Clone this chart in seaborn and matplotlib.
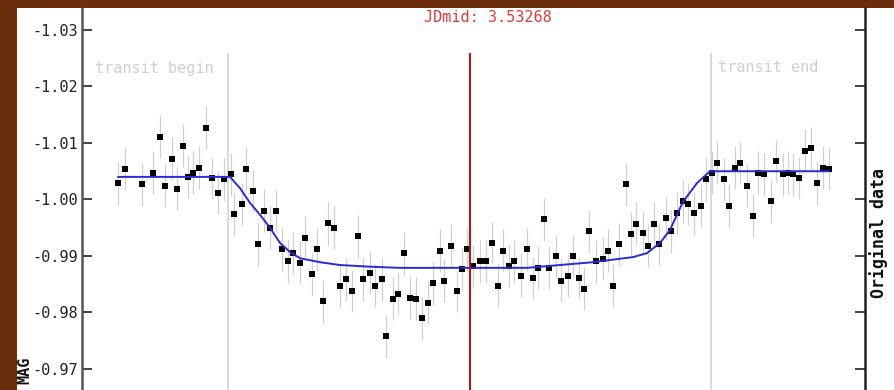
import matplotlib
matplotlib.use("Agg")
import matplotlib.pyplot as plt
from matplotlib.patches import Rectangle
import pandas as pd
import seaborn as sns

# Observed light curve (time in JD fraction, magnitude)
jd = [3.44468, 3.44643, 3.45068, 3.45343, 3.45518, 3.45643, 3.45818, 3.45943,
      3.46093, 3.46218, 3.46343, 3.46493, 3.46668, 3.46818, 3.46968, 3.47118,
      3.47293, 3.47368, 3.47568, 3.47668, 3.47843, 3.47968, 3.48118, 3.48268,
      3.48418, 3.48568, 3.48718, 3.48843, 3.49018, 3.49143, 3.49318, 3.49443,
      3.49593, 3.49718, 3.49868, 3.50018, 3.50168, 3.50318, 3.50468, 3.50593,
      3.50768, 3.50893, 3.51068, 3.51168, 3.51343, 3.51468, 3.51618, 3.51768,
      3.51918, 3.52068, 3.52218, 3.52343, 3.52518, 3.52618, 3.52793, 3.52943,
      3.53068, 3.53193, 3.53343, 3.53518, 3.53668, 3.53818, 3.53968, 3.54093,
      3.54243, 3.54368, 3.54543, 3.54693, 3.54843, 3.54968, 3.55118, 3.55243,
      3.55418, 3.55543, 3.55718, 3.55843, 3.55993, 3.56118, 3.56243, 3.56418,
      3.56593, 3.56718, 3.56843, 3.56993, 3.57168, 3.57293, 3.57418, 3.57593,
      3.57718, 3.57868, 3.57993, 3.58168, 3.58293, 3.58443, 3.58593, 3.58718,
      3.58868, 3.59043, 3.59168, 3.59318, 3.59443, 3.59618, 3.59743, 3.59893,
      3.60018, 3.60193, 3.60343, 3.60468, 3.60618, 3.60793, 3.60918, 3.61093,
      3.61218, 3.61343, 3.61493, 3.61643, 3.61793, 3.61943, 3.62093, 3.62243]
mag = [-1.0029, -1.0054, -1.0027, -1.0047, -1.0111, -1.0024, -1.0072, -1.0019,
       -1.0095, -1.0040, -1.0047, -1.0056, -1.0127, -1.0038, -1.0012, -1.0036,
       -1.0045, -0.9974, -0.9992, -1.0054, -1.0015, -0.9921, -0.9980, -0.9950,
       -0.9980, -0.9912, -0.9891, -0.9905, -0.9888, -0.9932, -0.9868, -0.9912,
       -0.9820, -0.9958, -0.9950, -0.9847, -0.9859, -0.9838, -0.9935, -0.9859,
       -0.9870, -0.9847, -0.9859, -0.9758, -0.9824, -0.9833, -0.9905, -0.9826,
       -0.9824, -0.9790, -0.9817, -0.9852, -0.9909, -0.9856, -0.9918, -0.9838,
       -0.9877, -0.9912, -0.9882, -0.9891, -0.9891, -0.9923, -0.9847, -0.9909,
       -0.9882, -0.9891, -0.9865, -0.9912, -0.9861, -0.9879, -0.9965, -0.9879,
       -0.9900, -0.9856, -0.9865, -0.9900, -0.9861, -0.9842, -0.9944, -0.9891,
       -0.9895, -0.9909, -0.9847, -0.9921, -1.0027, -0.9939, -0.9957, -0.9941,
       -0.9918, -0.9957, -0.9921, -0.9967, -0.9944, -0.9976, -0.9997, -0.9992,
       -0.9976, -0.9989, -1.0036, -1.0047, -1.0065, -1.0036, -0.9989, -1.0056,
       -1.0065, -1.0024, -0.9971, -1.0047, -1.0045, -0.9997, -1.0068, -1.0045,
       -1.0047, -1.0045, -1.0038, -1.0086, -1.0091, -1.0029, -1.0056, -1.0054]
mag_err = 0.0038

# Fitted transit model
fit_jd = [3.44468, 3.47268, 3.47518, 3.47768, 3.48018, 3.48268, 3.48518,
          3.48768, 3.49018, 3.49518, 3.50018, 3.50768, 3.51518, 3.53268,
          3.54693, 3.55518, 3.56343, 3.57343, 3.57693, 3.58018, 3.58268,
          3.58443, 3.58593, 3.58943, 3.59268, 3.62243]
fit_mag = [-1.0040, -1.0040, -1.0020, -0.9994, -0.9973, -0.9950, -0.9923,
           -0.9907, -0.9896, -0.9889, -0.9884, -0.9881, -0.9879, -0.9879,
           -0.9879, -0.9884, -0.9889, -0.9898, -0.9905, -0.9923, -0.9946,
           -0.9973, -0.9996, -1.0029, -1.0050, -1.0050]

jd_mid = 3.53268
transit_begin = 3.47218
transit_end = 3.59293

yticks = [-1.03, -1.02, -1.01, -1.00, -0.99, -0.98, -0.97]
ytick_labels = ["-1.03", "-1.02", "-1.01", "-1.00", "-0.99", "-0.98", "-0.97"]

obs = pd.DataFrame({"jd": jd, "mag": mag})
fit = pd.DataFrame({"jd": fit_jd, "mag": fit_mag})

sns.set_theme(style="white")
plt.rcParams["font.family"] = ["DejaVu Sans Mono", "DejaVu Sans"]
plt.rcParams["axes.unicode_minus"] = False

W, H = 895, 390
fig = plt.figure(figsize=(W / 100, H / 100), dpi=100, facecolor="#6a2e0c")
fig.patches.append(Rectangle((17 / W, 0), 1, 1 - 8 / H, transform=fig.transFigure,
                             facecolor="white", edgecolor="none", zorder=-1))
ax = fig.add_axes([82 / W, 0, (865 - 82) / W, 1 - 8 / H])
ax.set_facecolor("white")

y_low, y_high = -0.96628, -1.03389
line_top = -1.0259

ax.errorbar(obs["jd"], obs["mag"], yerr=mag_err, fmt="none",
            ecolor="#d0d0d0", elinewidth=0.9, zorder=1)
ax.vlines([transit_begin, transit_end], y_low, line_top,
          color="#dadada", lw=1.5, zorder=0.5)
sns.scatterplot(data=obs, x="jd", y="mag", marker="s", color="black", s=19,
                linewidth=0, ax=ax, zorder=3)
sns.lineplot(data=fit, x="jd", y="mag", color="#2a2ad6", lw=1.4, sort=False,
             estimator=None, ax=ax, zorder=4)
ax.vlines(jd_mid, y_low, line_top, color="#b81414", lw=1.5, zorder=5)

ax.set_xlim(3.43568, 3.63143)
ax.set_ylim(y_low, y_high)
ax.set_yticks(yticks)
ax.set_yticklabels(ytick_labels)
ax.set_xticks([])
ax.set_xlabel("")
ax.set_ylabel("")
ax.tick_params(axis="y", which="both", direction="in", length=7, width=1.3,
               left=True, right=True, labelleft=True, labelright=False,
               pad=3, labelsize=11, labelcolor="#222222", color="#333333")
for side in ("top", "bottom"):
    ax.spines[side].set_visible(False)
ax.spines["left"].set_color("#555555")
ax.spines["left"].set_linewidth(1.8)
ax.spines["right"].set_color("#222222")
ax.spines["right"].set_linewidth(1.8)

fig.text(488 / W, 1 - 18 / H, "JDmid: 3.53268", color="#e03a3a", fontsize=11,
         ha="center", va="center")
fig.text(214 / W, 1 - 68 / H, "transit begin", color="#cfcfcf", fontsize=11,
         ha="right", va="center")
fig.text(718 / W, 1 - 68 / H, "transit end", color="#cfcfcf", fontsize=11,
         ha="left", va="center")
fig.text(879 / W, 1 - 233 / H, "Original data", color="#111111", fontsize=12,
         fontweight="bold", rotation=90, ha="center", va="center")
fig.text(25 / W, 1 - 357 / H, "MAG", color="#111111", fontsize=11,
         fontweight="bold", rotation=90, ha="center", va="top")

fig.savefig("out.png", dpi=100, facecolor=fig.get_facecolor())
